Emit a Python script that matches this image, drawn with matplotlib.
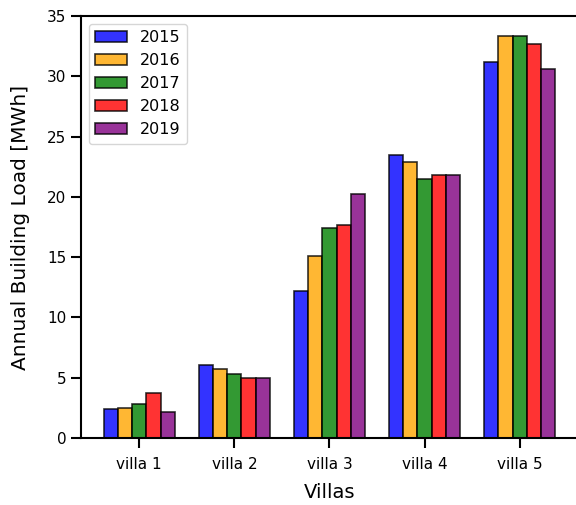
import numpy as np
import matplotlib.pyplot as plt

villas = ['villa 1', 'villa 2', 'villa 3', 'villa 4', 'villa 5']
years = ['2015', '2016', '2017', '2018', '2019']

load_2015 = [2.40, 6.05, 12.22, 23.50, 31.15]
load_2016 = [2.49, 5.72, 15.07, 22.92, 33.31]
load_2017 = [2.79, 5.31, 17.41, 21.48, 33.37]
load_2018 = [3.73, 4.95, 17.64, 21.84, 32.67]
load_2019 = [2.19, 5.01, 20.23, 21.84, 30.57]

colors = ['blue', 'orange', 'green', 'red', 'purple']
loads = [load_2015, load_2016, load_2017, load_2018, load_2019]

fig = plt.figure(figsize=(5.76, 5.05), dpi=100)
ax = fig.add_axes([0.1406, 0.1327, 0.8628, 0.8356])

x = np.arange(len(villas))
w = 0.15
for k, (yr, vals, c) in enumerate(zip(years, loads, colors)):
    ax.bar(x + (k - 2) * w, vals, w, color=c, alpha=0.8,
           edgecolor='black', linewidth=1.2, label=yr)

ax.set_ylim(0, 35)
ax.set_xticks(x)
ax.set_xticklabels(villas)
ax.tick_params(axis='both', labelsize=11, length=7, width=1.5)
ax.tick_params(axis='x', pad=6.5)
for s in ax.spines.values():
    s.set_linewidth(1.5)

ax.set_xlabel('Villas', fontsize=14, labelpad=8)
ax.set_ylabel('Annual Building Load [MWh]', fontsize=14.5, labelpad=12)
ax.legend(loc='upper left', fontsize=11.5)

fig.savefig('out.png', dpi=100)
